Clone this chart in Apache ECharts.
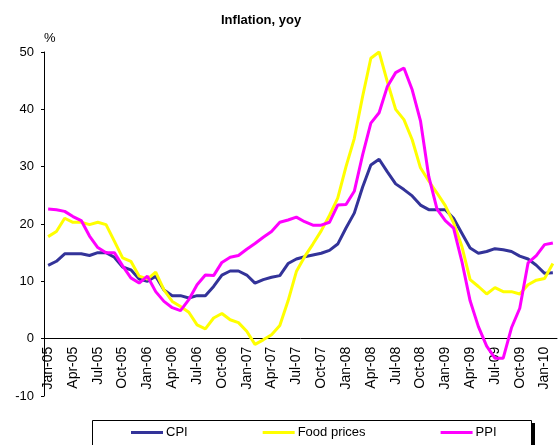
<!DOCTYPE html>
<html>
<head>
<meta charset="utf-8">
<title>Inflation, yoy</title>
<script src="https://cdn.jsdelivr.net/npm/echarts@6/dist/echarts.min.js"></script>
<style>
  html, body { margin: 0; padding: 0; background: #fff; }
  #chart { width: 559px; height: 445px; }
</style>
</head>
<body>
<div id="chart"></div>
<script>
// monthly, Jan-05 .. Feb-10
const months = ['Jan', 'Feb', 'Mar', 'Apr', 'May', 'Jun', 'Jul', 'Aug', 'Sep', 'Oct', 'Nov', 'Dec'];
const years = ['05', '06', '07', '08', '09', '10'];
const lastYearMonths = 2;

const cpi = [12.8, 13.5, 14.8, 14.8, 14.8, 14.5, 15.0, 15.0, 14.2, 12.5, 12.0, 10.4,
  10.0, 10.9, 8.5, 7.5, 7.5, 7.1, 7.5, 7.5, 9.1, 11.1, 11.8, 11.8,
  11.1, 9.7, 10.3, 10.7, 11.0, 13.1, 13.9, 14.3, 14.6, 14.9, 15.4, 16.5,
  19.3, 21.9, 26.4, 30.3, 31.3, 29.1, 27.0, 26.0, 24.9, 23.3, 22.5, 22.5,
  22.5, 21.0, 18.4, 15.8, 14.9, 15.2, 15.7, 15.5, 15.2, 14.4, 13.9, 12.8,
  11.4, 11.5];
const foodPrices = [17.8, 18.7, 21.0, 20.3, 20.3, 19.9, 20.3, 19.9, 17.0, 14.1, 13.5, 10.9,
  10.4, 11.6, 8.5, 6.5, 5.6, 4.6, 2.4, 1.7, 3.6, 4.4, 3.3, 2.8,
  1.3, -1.0, -0.2, 0.7, 2.3, 6.6, 11.7, 14.3, 16.5, 18.8, 21.5, 24.5,
  30.0, 34.9, 42.2, 48.9, 50.0, 44.8, 40.0, 38.2, 34.7, 29.8, 27.5, 25.4,
  23.2, 20.2, 16.1, 10.3, 9.1, 7.8, 8.9, 8.2, 8.2, 7.8, 9.4, 10.2,
  10.5, 13.1];
const ppi = [22.6, 22.5, 22.2, 21.3, 20.6, 17.9, 15.9, 15.0, 15.0, 12.7, 10.6, 9.7,
  10.9, 8.2, 6.5, 5.4, 4.9, 6.8, 9.4, 11.1, 11.0, 13.3, 14.2, 14.5,
  15.6, 16.6, 17.7, 18.7, 20.3, 20.7, 21.2, 20.4, 19.8, 19.8, 20.3, 23.3,
  23.4, 25.7, 32.0, 37.6, 39.4, 44.0, 46.4, 47.2, 43.4, 38.0, 28.3, 22.6,
  20.6, 19.3, 13.5, 6.6, 2.1, -1.3, -3.4, -3.4, 1.9, 5.3, 13.2, 14.5,
  16.4, 16.7];

const categories = [];
years.forEach((y, yi) => {
  const n = yi === years.length - 1 ? lastYearMonths : 12;
  for (let m = 0; m < n; m++) categories.push(months[m] + '-' + y);
});

const yMin = -10, yMax = 50;
const gridTop = 52, gridBottom = 49, chartH = 445;

const font = 'Liberation Sans, Arial, sans-serif';
const chart = echarts.init(document.getElementById('chart'));

// x axis sits on the zero line, labels hang below it
const plotH = chartH - gridTop - gridBottom;
const zeroOffset = -plotH * (0 - yMin) / (yMax - yMin);

chart.setOption({
  animation: false,
  backgroundColor: '#fff',
  textStyle: { fontFamily: font, color: '#000' },
  title: {
    text: 'Inflation, yoy',
    left: 221,
    top: 14,
    padding: 0,
    textStyle: { fontFamily: font, fontSize: 13, fontWeight: 'bold', color: '#000' }
  },
  grid: { left: 44, right: 2, top: gridTop, bottom: gridBottom, containLabel: false },
  xAxis: {
    type: 'category',
    data: categories,
    boundaryGap: true,
    offset: zeroOffset,
    axisLine: { onZero: false, lineStyle: { color: '#000', width: 1 } },
    axisTick: { interval: 0, length: 4, lineStyle: { color: '#000' } },
    axisLabel: {
      interval: 2,
      rotate: 90,
      margin: 8,
      fontSize: 14,
      color: '#000',
      fontFamily: font
    },
    splitLine: { show: false }
  },
  yAxis: {
    type: 'value',
    min: yMin,
    max: yMax,
    interval: 10,
    name: '%',
    nameLocation: 'end',
    nameGap: 7,
    nameTextStyle: { align: 'left', fontSize: 13, color: '#000', fontFamily: font },
    axisLine: { show: true, lineStyle: { color: '#000', width: 1 } },
    axisTick: { show: true, length: 3, lineStyle: { color: '#000' } },
    axisLabel: { fontSize: 13, color: '#000', margin: 10, fontFamily: font },
    splitLine: { show: false }
  },
  legend: {
    left: 131,
    top: 426,
    padding: 0,
    itemGap: 75,
    itemWidth: 32,
    itemHeight: 3,
    icon: 'rect',
    z: 10,
    textStyle: { fontSize: 13, color: '#000', fontFamily: font, padding: [0, 0, 0, -2] },
    data: ['CPI', 'Food prices', 'PPI']
  },
  graphic: [
    {
      type: 'rect',
      z: 0,
      shape: { x: 92.5, y: 420.5, width: 439, height: 30 },
      style: { fill: '#fff', stroke: '#000', lineWidth: 1 }
    },
    {
      type: 'rect',
      z: 0,
      shape: { x: 532, y: 423, width: 3, height: 25 },
      style: { fill: '#000' }
    }
  ],
  series: [
    {
      name: 'CPI',
      type: 'line',
      data: cpi,
      showSymbol: false,
      symbol: 'none',
      lineStyle: { color: '#333399', width: 3 },
      itemStyle: { color: '#333399' }
    },
    {
      name: 'Food prices',
      type: 'line',
      data: foodPrices,
      showSymbol: false,
      symbol: 'none',
      lineStyle: { color: '#ffff00', width: 3 },
      itemStyle: { color: '#ffff00' }
    },
    {
      name: 'PPI',
      type: 'line',
      data: ppi,
      showSymbol: false,
      symbol: 'none',
      lineStyle: { color: '#ff00ff', width: 3 },
      itemStyle: { color: '#ff00ff' }
    }
  ]
});
</script>
</body>
</html>
